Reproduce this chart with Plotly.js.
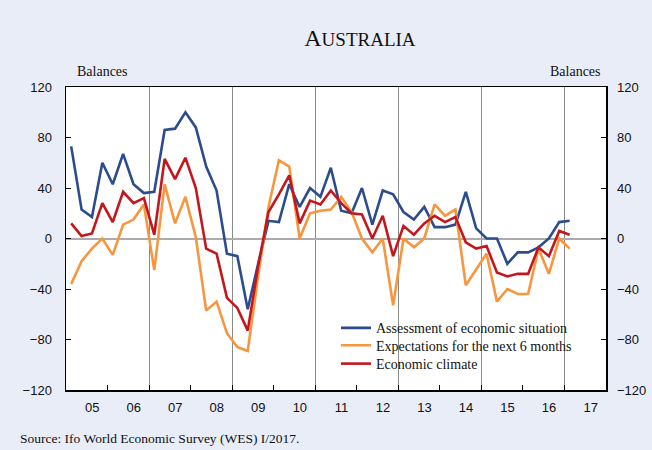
<!DOCTYPE html>
<html>
<head>
<meta charset="utf-8">
<script src="https://cdn.plot.ly/plotly-3.0.1.min.js"></script>
<style>
  html, body { margin: 0; padding: 0; background: #E9EDF8; }
  #chart { width: 652px; height: 450px; }
</style>
</head>
<body>
<div id="chart"></div>
<script>
// Survey start: first quarter of 2005, quarterly surveys (Q1 2005 .. Q1 2017)
const startYear = 2005;
const seriesNames = [
  'Assessment of economic situation',
  'Expectations for the next 6 months',
  'Economic climate'
];
const assessment = [73, 23, 17, 60, 43, 67, 43, 36, 37, 86, 87, 100, 88, 57, 38, -12, -14, -56, -20, 14, 13, 43, 25, 40, 33, 56, 22, 20, 40, 11, 38, 35, 21, 15, 25, 9, 9, 11, 37, 8, 0, 0, -20, -11, -11, -7, 0, 13, 14];
const expectations = [-36, -18, -8, 0, -13, 11, 15, 27, -25, 43, 12, 33, 1, -57, -50, -75, -86, -89, -30, 25, 62, 57, 0, 20, 22, 23, 33, 21, 0, -11, 0, -53, 0, -7, 0, 27, 18, 23, -37, -25, -12, -50, -40, -44, -44, -8, -28, 0, -8];
const climate = [12, 2, 4, 28, 13, 37, 28, 32, 3, 63, 47, 64, 40, -8, -12, -47, -55, -73, -22, 21, 35, 50, 12, 30, 27, 38, 28, 20, 19, 0, 18, -14, 10, 3, 12, 18, 13, 17, -3, -8, -6, -27, -30, -28, -28, -7, -14, 6, 3];
const years = [2005, 2006, 2007, 2008, 2009, 2010, 2011, 2012, 2013, 2014, 2015, 2016, 2017];
const yearLabels = ['05', '06', '07', '08', '09', '10', '11', '12', '13', '14', '15', '16', '17'];
const yTicks = [-120, -80, -40, 0, 40, 80, 120];

// survey dates: middle of each quarter
const dates = assessment.map((_, i) => startYear + Math.floor(i / 4) + (i % 4) * 0.25 + 0.125);

const colors = ['#2C4C8D', '#F7963F', '#C3161D'];
const serif = 'Liberation Serif';
const sans = 'Liberation Sans';
const legendIds = ['legend', 'legend2', 'legend3'];
const legendY = [0.2036, 0.1462, 0.0858];

const traces = [assessment, expectations, climate].map((vals, k) => ({
  x: dates, y: vals, type: 'scatter', mode: 'lines',
  name: seriesNames[k],
  line: { color: colors[k], width: 2.6 },
  xaxis: 'x', yaxis: 'y',
  legend: legendIds[k]
}));
// invisible helper trace to activate the right-hand and label axes
traces.push({ x: [years[0]], y: [0], xaxis: 'x2', yaxis: 'y2', mode: 'markers',
  marker: { opacity: 0 }, showlegend: false, hoverinfo: 'skip' });

const xRange = [2005, 2018];
const yRange = [-120, 120];

function legendBox(k) {
  return {
    x: 0.5, xanchor: 'left', y: legendY[k], yanchor: 'middle',
    bgcolor: 'rgba(0,0,0,0)', borderwidth: 0,
    font: { family: serif, size: 14, color: '#111' },
    tracegroupgap: 0
  };
}

const layout = {
  width: 652, height: 450,
  paper_bgcolor: '#E9EDF8', plot_bgcolor: '#FFFFFF',
  margin: { l: 66, r: 46, t: 87, b: 60 },
  showlegend: true,
  title: {
    text: 'A<span style="font-size:19px">USTRALIA</span>',
    font: { family: serif, size: 24, color: '#111' },
    x: 0.552, xanchor: 'center', y: 0.917, yanchor: 'middle'
  },
  xaxis: {
    range: xRange, tickmode: 'linear', tick0: 2005, dtick: 2,
    ticks: 'inside', ticklen: 5, tickcolor: '#000', tickwidth: 1,
    showticklabels: false,
    showgrid: true, gridcolor: '#8a8a8a', gridwidth: 1,
    minor: { tickmode: 'linear', tick0: 2005, dtick: 1, ticks: 'inside', ticklen: 5, tickcolor: '#000', showgrid: false },
    showline: true, linecolor: '#000', linewidth: 1.5, mirror: true,
    zeroline: false, fixedrange: true
  },
  xaxis2: {
    overlaying: 'x', side: 'bottom', range: xRange,
    tickmode: 'array', tickvals: years.map(y => y + 0.63), ticktext: yearLabels,
    ticks: '', showgrid: false, zeroline: false, showline: false,
    tickfont: { family: sans, size: 13, color: '#111' },
    ticklabelstandoff: 8
  },
  yaxis: {
    range: yRange, tickmode: 'array', tickvals: yTicks,
    ticks: 'inside', ticklen: 5, tickcolor: '#000',
    showgrid: false, zeroline: true, zerolinecolor: '#ABABAB', zerolinewidth: 2,
    showline: true, linecolor: '#000', linewidth: 1.5, mirror: true,
    tickfont: { family: sans, size: 13, color: '#111' },
    ticklabelstandoff: 10
  },
  yaxis2: {
    overlaying: 'y', side: 'right', range: yRange, tickmode: 'array', tickvals: yTicks,
    ticks: 'inside', ticklen: 5, tickcolor: '#000',
    showgrid: false, zeroline: false, showline: false,
    tickfont: { family: sans, size: 13, color: '#111' },
    ticklabelstandoff: 10
  },
  legend: legendBox(0),
  legend2: legendBox(1),
  legend3: legendBox(2),
  annotations: [
    { text: 'Balances', xref: 'paper', yref: 'paper', x: 0.067, y: 1.05,
      xanchor: 'center', yanchor: 'middle', showarrow: false,
      font: { family: serif, size: 14, color: '#111' } },
    { text: 'Balances', xref: 'paper', yref: 'paper', x: 0.943, y: 1.05,
      xanchor: 'center', yanchor: 'middle', showarrow: false,
      font: { family: serif, size: 14, color: '#111' } },
    { text: 'Source: Ifo World Economic Survey (WES) I/2017.', xref: 'paper', yref: 'paper',
      x: -0.089, y: -0.16, xanchor: 'left', yanchor: 'middle', showarrow: false,
      font: { family: serif, size: 13.5, color: '#111' } }
  ]
};

Plotly.newPlot('chart', traces, layout, { staticPlot: true, displayModeBar: false });
</script>
</body>
</html>
